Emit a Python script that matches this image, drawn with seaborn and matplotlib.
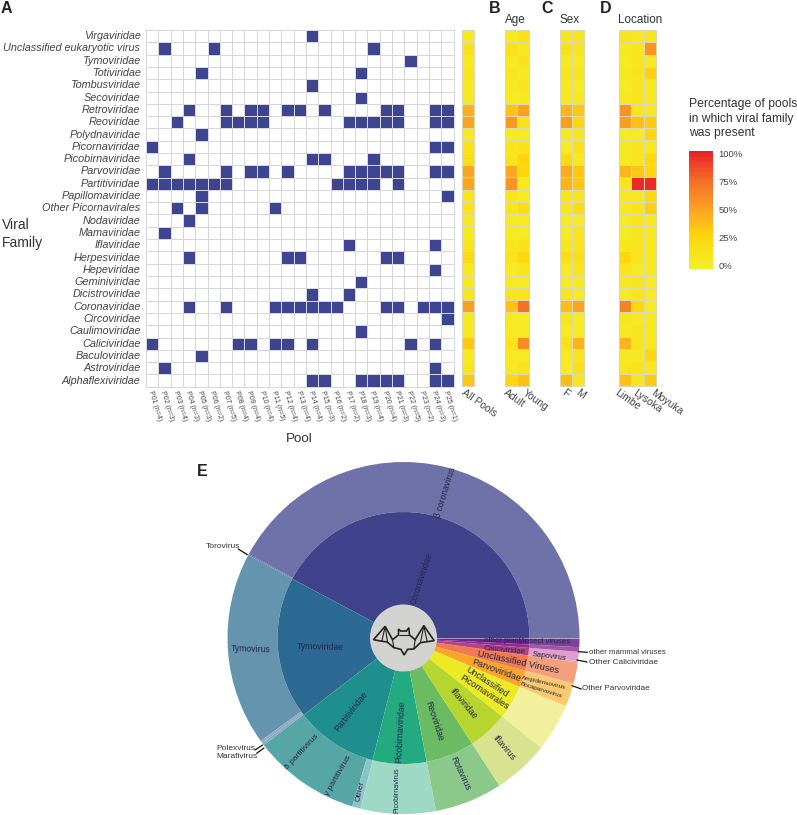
import matplotlib
matplotlib.use('Agg')
import matplotlib.pyplot as plt
from matplotlib.colors import LinearSegmentedColormap, ListedColormap
from matplotlib.path import Path
from matplotlib.patches import PathPatch, Circle
import numpy as np
import pandas as pd
import seaborn as sns

sns.set_theme(style='white')
plt.rcParams['font.family'] = ['Liberation Sans', 'DejaVu Sans']

families = ['Virgaviridae', 'Unclassified eukaryotic virus', 'Tymoviridae', 'Totiviridae',
            'Tombusviridae', 'Secoviridae', 'Retroviridae', 'Reoviridae', 'Polydnaviridae',
            'Picornaviridae', 'Picobirnaviridae', 'Parvoviridae', 'Partitiviridae',
            'Papillomaviridae', 'Other Picornavirales', 'Nodaviridae', 'Mamaviridae',
            'Iflaviridae', 'Herpesviridae', 'Hepeviridae', 'Geminiviridae', 'Dicistroviridae',
            'Coronaviridae', 'Circoviridae', 'Caulimoviridae', 'Caliciviridae',
            'Baculoviridae', 'Astroviridae', 'Alphaflexiviridae']
pool_n = [4, 3, 4, 3, 3, 2, 5, 4, 4, 4, 5, 4, 4, 4, 3, 2, 2, 3, 4, 4, 3, 5, 2, 3, 1]

# pools (1-25) where each family was found, same order as families
present = [[14], [2, 6, 19], [22], [5, 18], [14], [18],
           [4, 7, 9, 10, 12, 13, 15, 20, 21, 24, 25],
           [3, 7, 8, 9, 10, 17, 18, 19, 20, 21, 24, 25],
           [5], [1, 24, 25], [4, 14, 15, 19],
           [2, 7, 9, 10, 12, 17, 18, 19, 20, 21, 24, 25],
           [1, 2, 3, 4, 5, 6, 7, 16, 17, 18, 19, 21],
           [5, 25], [3, 5, 11], [4], [2], [17, 24],
           [4, 12, 13, 20, 21], [24], [18], [14, 17],
           [4, 7, 11, 12, 13, 14, 15, 16, 20, 21, 23, 24, 25],
           [25], [18], [1, 8, 9, 11, 12, 14, 22, 24], [5], [2, 24],
           [14, 15, 18, 19, 20, 21, 24, 25]]

all_pools = [4, 12, 4, 8, 4, 4, 44, 48, 4, 12, 16, 48, 48, 8, 12, 4, 4, 8, 20, 4, 4, 8, 52, 4, 4, 32, 4, 8, 32]
adult = [4, 14, 3, 8, 4, 3, 35, 55, 3, 8, 10, 48, 58, 8, 10, 3, 5, 6, 14, 3, 5, 6, 35, 5, 5, 14, 5, 5, 24]
young = [12, 5, 10, 4, 8, 4, 50, 10, 3, 10, 27, 25, 4, 3, 18, 3, 3, 10, 25, 8, 3, 8, 75, 3, 3, 62, 2, 10, 35]
female = [6, 12, 5, 7, 4, 5, 42, 52, 4, 3, 22, 45, 42, 8, 8, 3, 3, 8, 16, 3, 3, 8, 38, 6, 3, 14, 3, 3, 38]
male = [8, 8, 3, 6, 3, 4, 32, 25, 7, 14, 5, 33, 33, 8, 18, 3, 7, 6, 15, 7, 4, 3, 48, 2, 3, 42, 6, 12, 6]
limbe = [8, 4, 3, 4, 3, 4, 58, 52, 3, 5, 5, 42, 8, 5, 5, 3, 2, 8, 24, 8, 4, 3, 65, 8, 4, 42, 5, 8, 35]
lysoka = [5, 9, 6, 10, 6, 8, 8, 36, 3, 7, 6, 32, 98, 5, 10, 7, 7, 8, 8, 3, 7, 10, 25, 4, 9, 9, 5, 10, 8]
moyuka = [8, 58, 5, 28, 4, 4, 5, 30, 25, 4, 25, 25, 98, 22, 28, 4, 4, 4, 4, 4, 3, 3, 3, 4, 4, 4, 25, 4, 30]

# sunburst, degrees anticlockwise from east
inner_names = ['Coronaviridae', 'Tymoviridae', 'Partitiviridae', 'Picobirnaviridae', 'Reoviridae',
               'Iflaviridae', 'Unclassified Picornavirales', 'Parvoviridae', 'Unclassified Viruses',
               'Caliciviridae', 'other mammal viruses', 'other plant/insect viruses']
inner_sizes = [152, 65.6, 38.2, 24.8, 22.4, 18.5, 15.7, 7.8, 7, 3.5, 1.5, 3]
inner_colors = ['#40438b', '#2c6a94', '#1f8f8e', '#23aa80', '#6bbb62', '#b6d52f', '#ecea25',
                '#fba52a', '#f07b52', '#b9437f', '#8a2f96', '#6a2590']
outer_names = ['beta coronavirus', 'Torovirus', 'Tymovirus', 'Polexvirus', 'Marafivirus', 'partitivirus',
               'Other', 'Picobirnavirus', 'Rotavirus', 'Iflavirus', 'Unassigned', 'Ampidensovirus/Bocaparvovirus',
               'Other Parvoviridae', 'Unassigned viruses', 'Other Caliciviridae', 'Sapovirus',
               'other mammal viruses', 'other plant/insect viruses']
outer_sizes = [151.6, 0.4, 63.9, 0.85, 0.85, 35.6, 2.8, 24.8, 22.4, 18.5, 15.7, 7.4, 0.4, 7, 0.5, 3, 1.5, 3]
outer_colors = ['#6f72a8', '#6f72a8', '#6594ae', '#8fa9c2', '#8fa9c2', '#56a6a6', '#8cc4c6', '#9ed9c5',
                '#8bc98b', '#d8e38f', '#f2f09d', '#fcc96e', '#fcc96e', '#f4a07c', '#e09fc8', '#e09fc8',
                '#a455a8', '#7a4498']

W, H = 797, 815
fig = plt.figure(figsize=(W / 100, H / 100), dpi=100)


def ax_px(x0, y0, x1, y1):
    return fig.add_axes([x0 / W, 1 - y1 / H, (x1 - x0) / W, (y1 - y0) / H])


def fig_text(x, y, s, **kw):
    kw.setdefault('color', '#333333')
    fig.text(x / W, 1 - y / H, s, **kw)


heat_cmap = LinearSegmentedColormap.from_list(
    'pct', [(0, '#f3ee28'), (0.27, '#ffd60c'), (0.5, '#fba422'), (0.75, '#f36f26'), (1, '#ea2228')], N=48)

# A
pool_labels = ['P{:02d} (n={})'.format(i + 1, n) for i, n in enumerate(pool_n)]
matrix = np.zeros((len(families), len(pool_n)))
for row, pools in enumerate(present):
    for p in pools:
        matrix[row, p - 1] = 1
df = pd.DataFrame(matrix, index=families, columns=pool_labels)

ax = ax_px(146, 30, 453.5, 386.7)
sns.heatmap(df, ax=ax, cmap=ListedColormap(['white', '#3d4490']), cbar=False, vmin=0, vmax=1,
            linewidths=0.6, linecolor='#d6d6de')
ax.collections[0].set_clip_on(False)
ax.set_yticks(np.arange(len(families)) + 0.5)
ax.set_yticklabels(families, rotation=0, style='italic', size=7.8, color='#444444')
ax.set_xticks(np.arange(len(pool_n)) + 0.35)
ax.set_xticklabels(pool_labels, rotation=-73, ha='left', va='center', rotation_mode='anchor',
                   size=5, color='#444444')
ax.tick_params(axis='both', length=0, pad=3)
ax.tick_params(axis='y', pad=4)
ax.set_xlabel('')
ax.set_ylabel('')


def strip(x0, x1, columns, names, label_x, cax=None):
    frame = pd.DataFrame(dict(zip(names, columns)), index=families)
    a = ax_px(x0, 30, x1, 386)
    sns.heatmap(frame, ax=a, cmap=heat_cmap, vmin=-3.5, vmax=102, linewidths=0.6, linecolor='#dcd9b0',
                cbar=cax is not None, cbar_ax=cax, yticklabels=False, xticklabels=False)
    a.collections[0].set_clip_on(False)
    a.set_ylabel('')
    # labels fan out wider than the cells
    for name, lx in zip(names, label_x):
        fig_text(lx, 392, name, rotation=-35, ha='left', va='center', rotation_mode='anchor',
                 size=7.5, color='#444444')
    return a


# colour key sits at the right, drawn by the first strip
cax = ax_px(689, 151, 713, 269)
strip(462, 474, [all_pools], ['All Pools'], [463], cax=cax)
strip(505, 529, [adult, young], ['Adult', 'Young'], [505, 524])
strip(560, 584, [female, male], ['F', 'M'], [563, 577])
strip(619, 656, [limbe, lysoka, moyuka], ['Limbe', 'Lysoka', 'Moyuka'], [616, 634, 652])
cax.set_yticks([0, 25, 50, 75, 100])
cax.set_yticklabels(['0%', '25%', '50%', '75%', '100%'], size=6.8, color='#444444')
cax.tick_params(axis='y', length=0, pad=4)
for sp in cax.spines.values():
    sp.set_visible(False)

# text around the heatmaps
for s, x, y in [('A', 1, 13), ('B', 489, 13), ('C', 541, 13), ('D', 600, 13), ('E', 197, 476)]:
    fig_text(x, y, s, size=11.5, weight='bold', color='#222222')
fig_text(505, 23, 'Age', size=8.4)
fig_text(559, 23, 'Sex', size=8.4)
fig_text(618, 23, 'Location', size=8.4)
fig_text(2, 229, 'Viral', size=10)
fig_text(2, 247, 'Family', size=10)
fig_text(299, 442, 'Pool', size=9.6, ha='center')
fig_text(689, 107, 'Percentage of pools', size=8.7)
fig_text(689, 122, 'in which viral family', size=8.7)
fig_text(689, 136, 'was present', size=8.7)

# E, one data unit is one pixel
cx, cy, r_out = 403.5, 638, 176
sun = ax_px(cx - 200, cy - 178, cx + 200, cy + 177)
sun.pie(outer_sizes, colors=outer_colors, radius=r_out, startangle=0, counterclock=True,
        wedgeprops=dict(width=50, linewidth=0))
sun.pie(inner_sizes, colors=inner_colors, radius=126, startangle=0, counterclock=True,
        wedgeprops=dict(width=93, linewidth=0))
sun.plot([0, r_out], [0, 0], color='white', lw=0.5, alpha=0.7, zorder=2)
sun.add_patch(Circle((0, 0), 33.5, color='#d2d2d0', lw=0, zorder=3))
sun.set_xlim(-200, 200)
sun.set_ylim(-177, 178)
sun.set_aspect('equal')
sun.axis('off')

sun_labels = [
    ('\u03b2 coronavirus', 445, 493, 73, 6.2),
    ('Coronaviridae', 421.7, 578, 72, 6.2),
    ('Tymovirus', 250.7, 649, -2, 6.2),
    ('Tymoviridae', 320, 646.7, -1, 6.2),
    ('Partitiviridae', 351, 711.7, 52, 6.2),
    ('\u03b4 partitivirus', 301.7, 751.7, 47, 6),
    ('\u03b3 partitivirus', 338.3, 775.7, 60, 6),
    ('Other', 360, 791, 78, 6),
    ('Picobirnaviridae', 400, 731.7, 87, 6.2),
    ('Picobirnavirus', 396.7, 790, 90, 5.2),
    ('Reoviridae', 434.3, 721, -72, 6.2),
    ('Rotavirus', 460, 774, -65, 6.2),
    ('Iflaviridae', 462.7, 704, -50, 6.2),
    ('Iflavirus', 504, 747.7, -50, 6.2),
    ('Unclassified', 486.7, 682.3, -33, 6.4),
    ('Picornavirales', 484, 692.7, -33, 6.4),
    ('Parvoviridae', 496, 670.7, -20, 6.6),
    ('Unclassified Viruses', 517.7, 661.7, -12, 6.6),
    ('Caliciviridae', 505, 650, -5, 5.6),
    ('other plant/insect viruses', 526.7, 641.7, -1, 5.6),
    ('Sapovirus', 549.3, 656.7, -7, 5.6),
    ('Ampidensovirus', 544, 682.3, -13, 4.6),
    ('Bocaparvovirus', 541, 690, -17, 4.6),
]
for s, x, y, rot, size in sun_labels:
    sun.text(x - cx, cy - y, s, rotation=rot, rotation_mode='anchor', ha='center', va='center',
             size=size, color='#26264a', zorder=5)

# names outside the ring with short leader lines
outside = [('Torovirus', 206, 547, 238.3, 549, 247.3, 554.7, 6),
           ('Polexvirus', 216, 749, 255, 750, 262.7, 745, 6),
           ('Marafivirus', 216, 757, 256.7, 753.3, 264, 748, 6),
           ('other mammal viruses', 589, 652, 578.3, 651.7, 587.3, 652.3, 5.6),
           ('Other Caliciviridae', 589, 662, 577, 660, 587, 662, 6),
           ('Other Parvoviridae', 582, 689, 572, 685.7, 581.3, 689, 5.9)]
for s, tx, ty, x0, y0, x1, y1, size in outside:
    fig_text(tx, ty, s, size=size, va='center')
    fig.add_artist(plt.Line2D([x0 / W, x1 / W], [1 - y0 / H, 1 - y1 / H], color='#111111', lw=0.9))

# bat icon
bat_outline = [(25, 122), (60, 82), (82, 122), (100, 108), (100, 90), (106, 96), (124, 96), (131, 86),
               (133, 108), (150, 122), (176, 80), (207, 125), (186, 128), (166, 131), (146, 150),
               (127, 151), (117, 168), (107, 151), (86, 146), (66, 129), (46, 126), (25, 122)]
bat_ribs = [[(60, 82), (50, 127)], [(60, 82), (67, 129)], [(82, 122), (86, 146)], [(150, 122), (146, 150)],
            [(176, 80), (166, 131)], [(176, 80), (186, 128)], [(100, 108), (133, 108)]]
scale = 1 / 3.0
to_xy = lambda p: ((p[0] - 115) * scale, (120 - p[1]) * scale - 1)
sun.add_patch(PathPatch(Path([to_xy(p) for p in bat_outline]), fill=False, ec='#222222', lw=1.2, zorder=4))
for rib in bat_ribs:
    sun.add_patch(PathPatch(Path([to_xy(p) for p in rib]), fill=False, ec='#222222', lw=0.8, zorder=4))

fig.savefig('out.png', dpi=100)
